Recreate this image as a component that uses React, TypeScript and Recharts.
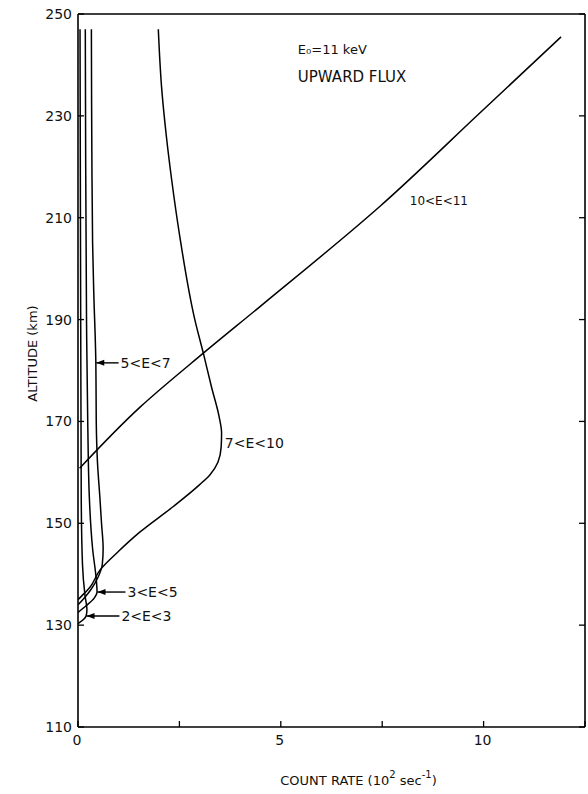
import { ComposedChart, Line, XAxis, YAxis, ReferenceLine } from "recharts";

// tick values
const altTicks = [110, 130, 150, 170, 190, 210, 230, 250];
const rateTicks = [0, 2.5, 5, 7.5, 10, 12.5];
const rateLabelled = [0, 5, 10];

// count rate (10^2 sec^-1) vs altitude (km), ordered by altitude
const rate2to3 = [0, 0.12, 0.2, 0.22, 0.17, 0.11, 0.08, 0.07, 0.06, 0.05];
const alt2to3 = [130.3, 131, 131.8, 133, 136, 142, 155, 180, 210, 247];

const rate3to5 = [0, 0.2, 0.4, 0.47, 0.45, 0.36, 0.28, 0.24, 0.21, 0.19, 0.18];
const alt3to5 = [132.5, 133.8, 135.3, 136.5, 139, 145, 155, 170, 190, 220, 247];

const rate5to7 = [0, 0.15, 0.32, 0.5, 0.6, 0.62, 0.58, 0.54, 0.48, 0.45, 0.44, 0.39, 0.36, 0.34, 0.33];
const alt5to7 = [134, 135.3, 137, 139.5, 142, 145, 150, 155, 162, 170, 181.5, 195, 205, 225, 247];

const rate7to10 = [
  0, 0.1, 0.3, 0.54, 1.0, 1.53, 2.35, 3.0, 3.25, 3.45, 3.53, 3.54, 3.48, 3.29, 3.09, 2.88, 2.51, 2.31,
  2.18, 2.06, 1.98,
];
const alt7to10 = [
  135, 135.8, 137.5, 140.8, 144.5, 148.3, 153.3, 157.6, 159.5, 162, 165, 167.7, 170.9, 176.8, 183.4,
  190, 206.3, 217.4, 225.9, 235.7, 247,
];

const rate10to11 = [0.04, 1.53, 3.09, 4.48, 7.44, 9.9, 11.91];
const alt10to11 = [160.8, 172.8, 183.4, 192.5, 212.2, 230.5, 245.5];

const seriesNames = ["2<E<3", "3<E<5", "5<E<7", "7<E<10", "10<E<11"];
const seriesRates = [rate2to3, rate3to5, rate5to7, rate7to10, rate10to11];
const seriesAlts = [alt2to3, alt3to5, alt5to7, alt7to10, alt10to11];

// annotations: text anchor (x, alt); arrow tip at tipX when present
const notes = [
  { text: "5<E<7", x: 1.05, alt: 181.5, tipX: 0.45, size: 14 },
  { text: "3<E<5", x: 1.22, alt: 136.5, tipX: 0.48, size: 14 },
  { text: "2<E<3", x: 1.07, alt: 131.8, tipX: 0.21, size: 14 },
  { text: "7<E<10", x: 3.62, alt: 165.8, tipX: null, size: 14 },
  { text: "10<E<11", x: 8.18, alt: 213.3, tipX: null, size: 12 },
  { text: "E₀=11 keV", x: 5.42, alt: 243.1, tipX: null, size: 13 },
  { text: "UPWARD FLUX", x: 5.42, alt: 237.6, tipX: null, size: 15 },
];

const FONT = "'DejaVu Sans', sans-serif";
const TICK = 6;
const LABEL_GAP = 10;

function BottomTick(p: any) {
  const v = p.payload.value;
  const axisY = p.y - LABEL_GAP;
  return (
    <g>
      <line x1={p.x} x2={p.x} y1={axisY} y2={axisY - TICK} stroke="#000" strokeWidth={1.3} />
      {rateLabelled.includes(v) && (
        <text x={p.x - 1} y={p.y - 2} textAnchor="middle" dominantBaseline="hanging" fontSize={14} fontFamily={FONT} fill="#111">
          {v}
        </text>
      )}
    </g>
  );
}

function TopTick(p: any) {
  return <line x1={p.x} x2={p.x} y1={p.y} y2={p.y + TICK} stroke="#000" strokeWidth={1.3} />;
}

function LeftTick(p: any) {
  const axisX = p.x + LABEL_GAP;
  return (
    <g>
      <line x1={axisX} x2={axisX + TICK} y1={p.y} y2={p.y} stroke="#000" strokeWidth={1.3} />
      <text x={p.x + 4} y={p.y} textAnchor="end" dominantBaseline="central" fontSize={14} fontFamily={FONT} fill="#111">
        {p.payload.value}
      </text>
    </g>
  );
}

function RightTick(p: any) {
  return <line x1={p.x} x2={p.x - TICK} y1={p.y} y2={p.y} stroke="#000" strokeWidth={1.3} />;
}

function RateTitle(p: any) {
  const vb = p.viewBox;
  return (
    <text x={vb.x + vb.width / 2 + 27} y={780} textAnchor="middle" dominantBaseline="central" fontSize={13} fontFamily={FONT} fill="#111">
      COUNT RATE (10
      <tspan dy={-6} fontSize={10}>2</tspan>
      <tspan dy={6}> sec</tspan>
      <tspan dy={-6} fontSize={10}>-1</tspan>
      <tspan dy={6}>)</tspan>
    </text>
  );
}

function AltTitle(p: any) {
  const vb = p.viewBox;
  const cy = vb.y + vb.height / 2 - 17;
  return (
    <text x={32} y={cy} transform={`rotate(-90, 32, ${cy})`} textAnchor="middle" dominantBaseline="central" fontSize={13} fontFamily={FONT} fill="#111">
      ALTITUDE (km)
    </text>
  );
}

function NoteShape(p: any) {
  const n = p.note;
  const hasArrow = n.tipX !== null;
  return (
    <g>
      {hasArrow && (
        <>
          <line x1={p.x1} y1={p.y1} x2={p.x2 - 2} y2={p.y2} stroke="#000" strokeWidth={1.4} />
          <polygon points={`${p.x1},${p.y1} ${p.x1 + 8},${p.y1 - 3} ${p.x1 + 8},${p.y1 + 3}`} fill="#000" />
        </>
      )}
      <text
        x={hasArrow ? p.x2 : p.x1}
        y={p.y1}
        dominantBaseline="central"
        fontSize={n.size}
        fontFamily={FONT}
        fill="#111"
      >
        {n.text}
      </text>
    </g>
  );
}

export default function App() {
  return (
    <div style={{ position: "absolute", left: 0, top: 0, width: 588, height: 794, background: "#fff" }}>
      <ComposedChart width={588} height={794} margin={{ top: 13, right: 2, bottom: 0, left: 0 }}>
        <XAxis
          type="number"
          dataKey="x"
          domain={[0, 12.5]}
          ticks={rateTicks}
          interval={0}
          allowDataOverflow
          height={67}
          tickSize={0}
          tickMargin={LABEL_GAP}
          tickLine={false}
          axisLine={{ stroke: "#000", strokeWidth: 1.6 }}
          tick={(p: any) => <BottomTick {...p} />}
          label={(p: any) => <RateTitle {...p} />}
        />
        <XAxis
          xAxisId="top"
          orientation="top"
          type="number"
          domain={[0, 12.5]}
          ticks={rateTicks}
          interval={0}
          allowDataOverflow
          height={1}
          tickSize={0}
          tickMargin={0}
          tickLine={false}
          axisLine={{ stroke: "#000", strokeWidth: 1.6 }}
          tick={(p: any) => <TopTick {...p} />}
        />
        <YAxis
          type="number"
          domain={[110, 250]}
          ticks={altTicks}
          interval={0}
          allowDataOverflow
          width={78}
          tickSize={0}
          tickMargin={LABEL_GAP}
          tickLine={false}
          axisLine={{ stroke: "#000", strokeWidth: 1.6 }}
          tick={(p: any) => <LeftTick {...p} />}
          label={(p: any) => <AltTitle {...p} />}
        />
        <YAxis
          yAxisId="right"
          orientation="right"
          type="number"
          domain={[110, 250]}
          ticks={altTicks}
          interval={0}
          allowDataOverflow
          width={1}
          tickSize={0}
          tickMargin={0}
          tickLine={false}
          axisLine={{ stroke: "#000", strokeWidth: 1.6 }}
          tick={(p: any) => <RightTick {...p} />}
        />
        {seriesNames.map((name, i) => (
          <Line
            key={name}
            name={name}
            data={seriesRates[i].map((r, j) => ({ x: r, alt: seriesAlts[i][j] }))}
            dataKey="alt"
            type="monotoneY"
            stroke="#000"
            strokeWidth={1.5}
            dot={false}
            activeDot={false}
            isAnimationActive={false}
          />
        ))}
        {notes.map((n) => (
          <ReferenceLine
            key={n.text}
            segment={[
              { x: n.tipX ?? n.x, y: n.alt },
              { x: n.x, y: n.alt },
            ]}
            ifOverflow="visible"
            shape={(p: any) => <NoteShape {...p} note={n} />}
          />
        ))}
      </ComposedChart>
    </div>
  );
}
